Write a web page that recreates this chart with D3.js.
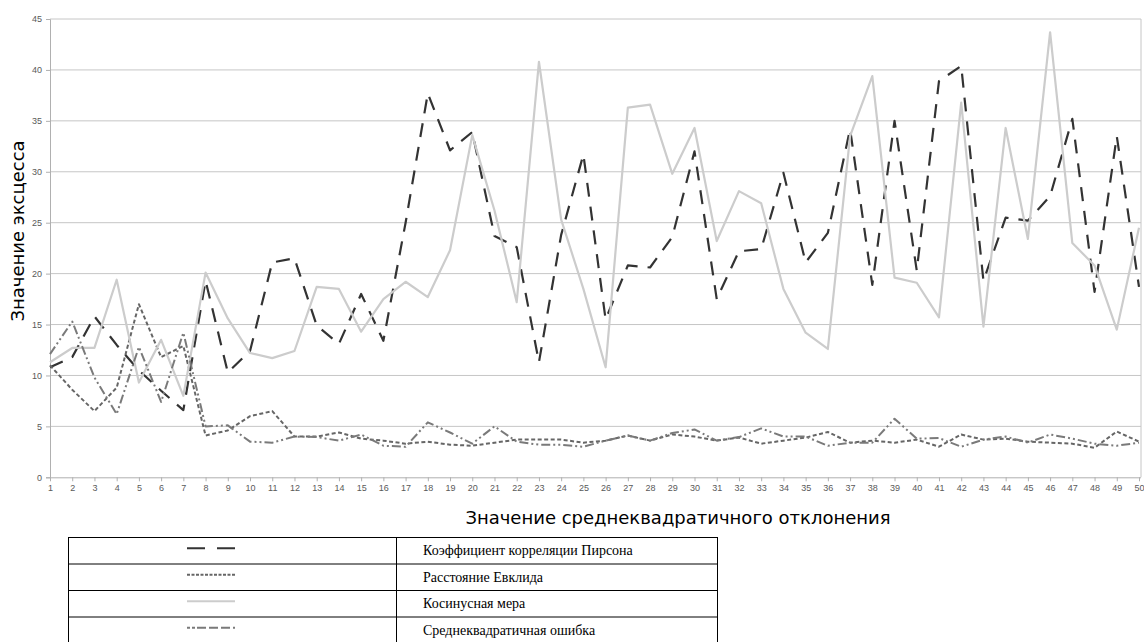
<!DOCTYPE html>
<html><head><meta charset="utf-8">
<script src="https://cdn.jsdelivr.net/npm/d3@7"></script>
<style>
body{margin:0;background:#fff;}
svg{display:block;}
</style></head>
<body>
<svg id="chart" width="1144" height="642"></svg>
<script>
const categories = d3.range(1, 51);
const yTicks = [0,5,10,15,20,25,30,35,40,45];
const seriesNames = ["Коэффициент корреляции Пирсона","Расстояние Евклида","Косинусная мера","Среднеквадратичная ошибка"];
const pearson = [10.8,11.8,15.8,13.0,10.5,8.5,6.6,19.3,10.3,12.4,21.1,21.5,14.9,13.1,18.0,13.4,25.0,37.7,32.1,33.9,23.7,22.6,11.3,23.8,31.7,15.5,20.8,20.6,23.6,32.0,17.5,22.2,22.4,29.9,21.1,24.0,34.2,18.9,35.0,20.3,38.9,40.4,19.3,25.5,25.2,27.6,35.2,18.2,33.5,18.7];
const euclid = [11.0,8.6,6.5,8.8,17.0,11.8,12.9,4.1,4.6,6.0,6.5,4.0,4.0,4.4,3.8,3.6,3.3,3.5,3.2,3.1,3.4,3.7,3.7,3.7,3.4,3.6,4.1,3.6,4.2,4.0,3.6,3.9,3.3,3.6,3.9,4.45,3.4,3.6,3.4,3.7,3.0,4.2,3.7,3.8,3.5,3.4,3.3,2.9,4.5,3.5];
const cosine = [11.3,12.7,12.7,19.4,9.3,13.5,8.0,20.1,15.6,12.2,11.7,12.4,18.7,18.5,14.3,17.5,19.2,17.7,22.3,33.6,26.2,17.2,40.8,25.3,18.5,10.8,36.3,36.6,29.8,34.3,23.2,28.1,26.9,18.5,14.2,12.6,33.5,39.4,19.6,19.1,15.7,36.8,14.8,34.3,23.4,43.7,23.0,20.8,14.5,24.5];
const rmse = [12.1,15.3,9.8,6.2,12.8,7.4,14.2,5.0,5.1,3.5,3.4,4.0,3.95,3.6,4.2,3.1,3.0,5.4,4.4,3.3,5.0,3.5,3.2,3.2,3.0,3.6,4.1,3.6,4.35,4.7,3.6,3.95,4.8,4.0,4.0,3.1,3.4,3.4,5.75,3.8,3.85,3.0,3.7,4.0,3.4,4.2,3.8,3.3,3.1,3.4];

const styles = [
  {data: pearson, color:"#333333", width:2.2, dash:"14,10"},
  {data: euclid,  color:"#666666", width:2,   dash:"4,2.5"},
  {data: cosine,  color:"#cccccc", width:2.2, dash:null},
  {data: rmse,    color:"#7a7a7a", width:2,   dash:"9,3,2,3,2,3"}
];

const svg = d3.select("#chart");
const x = d3.scalePoint().domain(categories).range([50, 1139]);
const y = d3.scaleLinear().domain([0, 45]).range([477.3, 19]);

// gridlines
svg.append("g").selectAll("line").data(yTicks.filter(d=>d>0)).join("line")
  .attr("x1", 50).attr("x2", 1141)
  .attr("y1", d=>y(d)).attr("y2", d=>y(d))
  .attr("stroke", "#c6c6c6").attr("stroke-width", 1);
// right border
svg.append("line").attr("x1",1141).attr("x2",1141).attr("y1",y(45)).attr("y2",y(0))
  .attr("stroke","#c6c6c6").attr("stroke-width",1);

// y axis
const yAxis = svg.append("g").attr("transform","translate(50,0)")
  .call(d3.axisLeft(y).tickValues(yTicks).tickSize(4).tickPadding(4));
yAxis.select(".domain").attr("stroke","#b0b0b0");
yAxis.selectAll(".tick line").attr("stroke","#b0b0b0");
yAxis.selectAll("text").attr("fill","#595959").style("font-family","Liberation Sans, Arial, sans-serif").style("font-size","9px");

// x axis
const xAxis = svg.append("g").attr("transform",`translate(0,${y(0)})`)
  .call(d3.axisBottom(x).tickSize(4).tickPadding(3));
xAxis.select(".domain").attr("stroke","#b0b0b0").attr("d", `M50,0.5H1141`);
xAxis.selectAll(".tick line").attr("stroke","#b0b0b0");
xAxis.selectAll("text").attr("fill","#595959").style("font-family","Liberation Sans, Arial, sans-serif").style("font-size","9px");

// lines
const line = d3.line().x((d,i)=>x(categories[i])).y(d=>y(d));
styles.forEach(s=>{
  svg.append("path").datum(s.data)
    .attr("d", line).attr("fill","none")
    .attr("stroke", s.color).attr("stroke-width", s.width)
    .attr("stroke-dasharray", s.dash)
    .attr("stroke-linejoin","round");
});

// axis titles
svg.append("text").attr("x", 678).attr("y", 524).attr("text-anchor","middle")
  .style("font-family","DejaVu Sans, sans-serif").style("font-size","18px").attr("fill","#000")
  .text("Значение среднеквадратичного отклонения");
svg.append("text").attr("transform","translate(24,231) rotate(-90)").attr("text-anchor","middle")
  .style("font-family","DejaVu Sans, sans-serif").style("font-size","18px").attr("fill","#000")
  .text("Значение эксцесса");

// legend table
const rowH = 26.5, tTop = 537, tLeft = 68, tRight = 717, tMid = 396;
const lg = svg.append("g");
const rows = d3.range(seriesNames.length);
lg.selectAll("line.h").data(d3.range(seriesNames.length+1)).join("line")
  .attr("x1", tLeft).attr("x2", tRight)
  .attr("y1", d=>tTop + d*rowH + 0.5).attr("y2", d=>tTop + d*rowH + 0.5)
  .attr("stroke","#000").attr("stroke-width",1);
[tLeft, tMid, tRight].forEach(xx=>{
  lg.append("line").attr("x1",xx+0.5).attr("x2",xx+0.5).attr("y1",tTop).attr("y2",tTop+rowH*4)
    .attr("stroke","#000").attr("stroke-width",1);
});
const legendDash = ["18,12","3,1.5",null,"3,2,3,2,9,3,9,3,9"];
rows.forEach(i=>{
  const cy = tTop + i*rowH + rowH/2;
  lg.append("line").attr("x1",187).attr("x2",235).attr("y1",cy-2).attr("y2",cy-2)
    .attr("stroke", styles[i].color).attr("stroke-width", 2)
    .attr("stroke-dasharray", legendDash[i]);
  lg.append("text").attr("x", 423).attr("y", cy+5)
    .style("font-family","Liberation Serif, Times New Roman, serif").style("font-size","14px")
    .attr("fill","#000").text(seriesNames[i]);
});
</script>
</body></html>
